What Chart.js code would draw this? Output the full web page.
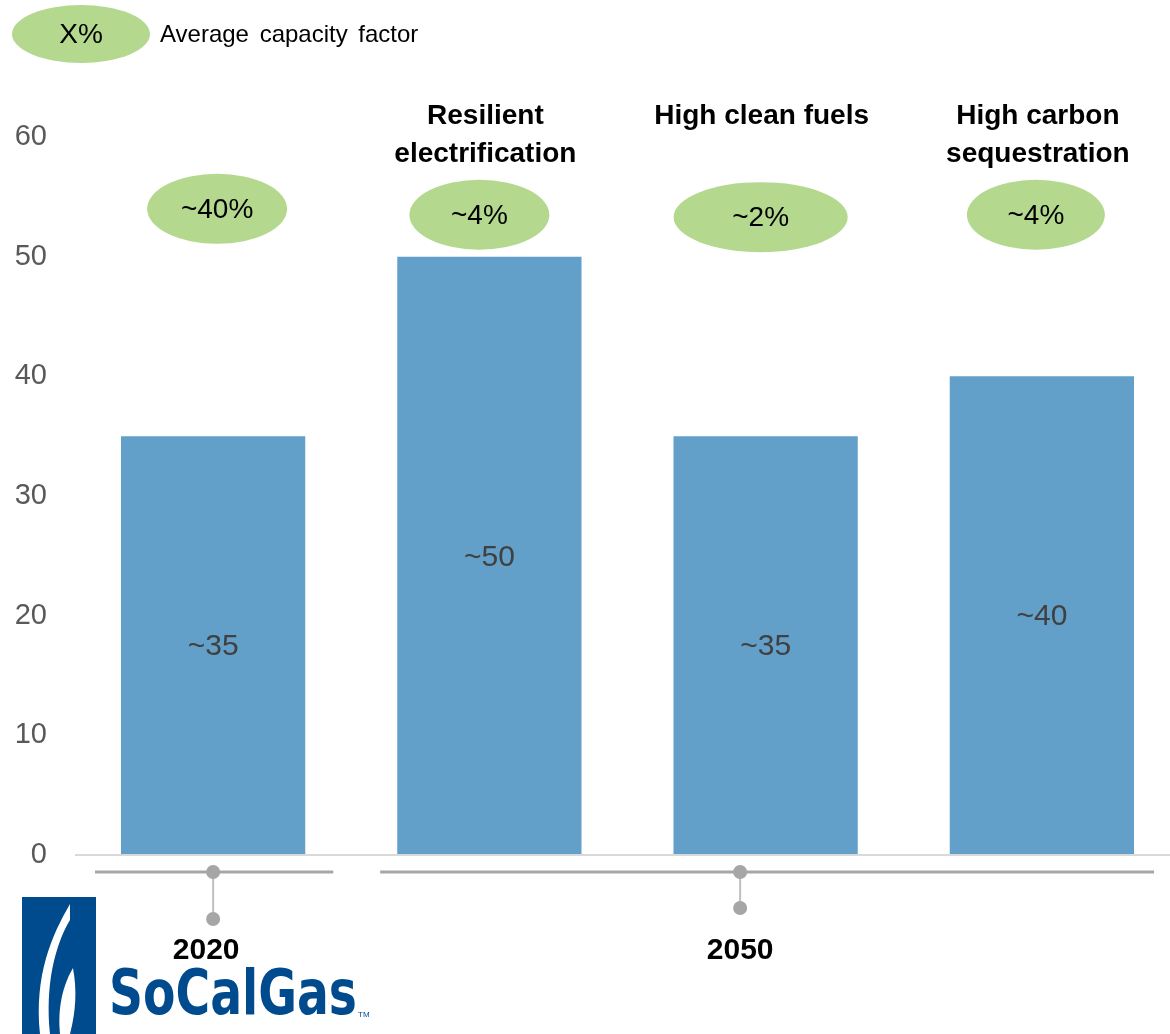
<!DOCTYPE html>
<html>
<head>
<meta charset="utf-8">
<script src="https://cdn.jsdelivr.net/npm/chart.js@4.4.1/dist/chart.umd.min.js"></script>
<style>
  html, body { margin: 0; padding: 0; background: #fff; overflow: hidden; }
  #wrap { position: absolute; left: 0; top: 0; width: 1180px; height: 1034px; }
</style>
</head>
<body>
<div id="wrap"><canvas id="capChart"></canvas></div>
<script>
// data
const scenarios = ["2020", "Resilient electrification", "High clean fuels", "High carbon sequestration"];
const titleLines = [[], ["Resilient", "electrification"], ["High clean fuels"], ["High carbon", "sequestration"]];
const capacityValues = [35, 50, 35, 40];
const barLabels = ["~35", "~50", "~35", "~40"];
const capacityFactors = ["~40%", "~4%", "~2%", "~4%"];
const yTicks = [0, 10, 20, 30, 40, 50, 60];
const yearGroups = [
  { label: "2020", from: 0, to: 0 },
  { label: "2050", from: 1, to: 3 }
];

const FONT = "'Liberation Sans', Arial, sans-serif";
const GREEN = "#b3d88e";
const BLUE = "#004b8d";
// bubble placement tweaks (x shift px, centre value on y axis, x radius)
const bubbleShift = [4, -10, -5, -6];
const bubbleLevel = [54.0, 53.5, 53.3, 53.5];
const bubbleRx = [70, 70, 87, 69];

function ellipse(ctx, cx, cy, rx, ry, text){
  ctx.fillStyle = GREEN;
  ctx.beginPath();
  ctx.ellipse(cx, cy, rx, ry, 0, 0, Math.PI * 2);
  ctx.fill();
  ctx.fillStyle = "#000";
  ctx.font = "28px " + FONT;
  ctx.textAlign = "center";
  ctx.textBaseline = "middle";
  ctx.fillText(text, cx, cy + 1);
}

const annotations = {
  id: "annotations",
  afterDatasetsDraw(chart){
    const ctx = chart.ctx;
    const meta = chart.getDatasetMeta(0);
    const y = chart.scales.y;
    ctx.save();

    // legend
    ellipse(ctx, 81, 34, 69, 29, "X%");
    ctx.font = "24px " + FONT;
    ctx.textAlign = "left";
    ctx.fillStyle = "#000";
    if ("wordSpacing" in ctx) ctx.wordSpacing = "4px";
    ctx.fillText("Average capacity factor", 160, 35);
    if ("wordSpacing" in ctx) ctx.wordSpacing = "0px";

    meta.data.forEach(function(bar, i){
      // value inside bar
      ctx.fillStyle = "#404040";
      ctx.font = "30px " + FONT;
      ctx.textAlign = "center";
      ctx.textBaseline = "middle";
      ctx.fillText(barLabels[i], bar.x, (bar.y + bar.base) / 2 + 2);

      // scenario title
      ctx.fillStyle = "#000";
      ctx.font = "bold 28px " + FONT;
      titleLines[i].forEach(function(line, k){
        ctx.fillText(line, bar.x - 4, 116 + k * 38);
      });

      // capacity factor bubble
      ellipse(ctx, bar.x + bubbleShift[i], y.getPixelForValue(bubbleLevel[i]), bubbleRx[i], 35, capacityFactors[i]);
    });

    // year brackets under the axis
    const base = y.getPixelForValue(0);
    yearGroups.forEach(function(g, gi){
      const left = meta.data[g.from].x - meta.data[g.from].width / 2;
      const right = meta.data[g.to].x + meta.data[g.to].width / 2;
      const x1 = left - 26 + (gi ? 9 : 0);
      const x2 = right + (gi ? 20 : 28);
      const lineY = base + 17;
      ctx.strokeStyle = "#a6a6a6";
      ctx.lineWidth = 3;
      ctx.beginPath();
      ctx.moveTo(x1, lineY);
      ctx.lineTo(x2, lineY);
      ctx.stroke();
      const dx = gi ? (x1 + x2) / 2 - 27 : meta.data[g.from].x;
      const drop = gi ? 36 : 47;
      ctx.strokeStyle = "#bfbfbf";
      ctx.lineWidth = 2;
      ctx.beginPath();
      ctx.moveTo(dx, lineY);
      ctx.lineTo(dx, lineY + drop);
      ctx.stroke();
      ctx.fillStyle = "#a6a6a6";
      [lineY, lineY + drop].forEach(function(py){
        ctx.beginPath();
        ctx.arc(dx, py, 7, 0, Math.PI * 2);
        ctx.fill();
      });
      ctx.fillStyle = "#000";
      ctx.font = "bold 30px " + FONT;
      ctx.textAlign = "center";
      ctx.textBaseline = "alphabetic";
      ctx.fillText(g.label, dx - (gi ? 0 : 7), 959);
    });

    // SoCalGas logo
    ctx.fillStyle = BLUE;
    ctx.fillRect(22, 897, 74, 137);
    ctx.fillStyle = "#fff";
    ctx.beginPath();
    ctx.moveTo(70, 904);
    ctx.bezierCurveTo(52, 935, 34, 975, 40, 1034);
    ctx.lineTo(50, 1034);
    ctx.bezierCurveTo(45, 985, 55, 945, 70, 920);
    ctx.closePath();
    ctx.fill();
    ctx.beginPath();
    ctx.moveTo(73, 968);
    ctx.bezierCurveTo(60, 990, 58, 1015, 60, 1034);
    ctx.lineTo(70, 1034);
    ctx.bezierCurveTo(76, 1010, 77, 990, 73, 968);
    ctx.closePath();
    ctx.fill();

    ctx.fillStyle = BLUE;
    ctx.font = "bold 62px 'Liberation Sans Narrow', 'DejaVu Sans Condensed', " + FONT;
    ctx.textAlign = "left";
    ctx.textBaseline = "alphabetic";
    const w = ctx.measureText("SoCalGas").width;
    ctx.save();
    ctx.translate(109, 1014);
    ctx.scale(248 / w, 1);
    ctx.fillText("SoCalGas", 0, 0);
    ctx.restore();
    ctx.font = "8px " + FONT;
    ctx.fillText("TM", 358, 1017);

    ctx.restore();
  }
};

new Chart(document.getElementById("capChart"), {
  type: "bar",
  data: {
    labels: scenarios,
    datasets: [{
      data: capacityValues,
      backgroundColor: "#62a0ca",
      barPercentage: 0.667,
      categoryPercentage: 1.0
    }]
  },
  options: {
    responsive: true,
    maintainAspectRatio: false,
    animation: false,
    layout: { padding: { top: 137, bottom: 179, left: 0, right: 0 } },
    plugins: { legend: { display: false }, tooltip: { enabled: false } },
    scales: {
      x: {
        display: false
      },
      y: {
        min: 0,
        max: 60,
        afterFit(scale){ scale.width = 75; },
        afterBuildTicks(scale){ scale.ticks = yTicks.map(v => ({ value: v })); },
        border: { display: false },
        grid: {
          drawTicks: false,
          color: ctx => ctx.tick && ctx.tick.value === 0 ? "#d9d9d9" : "rgba(0,0,0,0)",
          lineWidth: 2
        },
        ticks: {
          padding: 28,
          color: "#595959",
          font: { family: FONT, size: 29 }
        }
      }
    }
  },
  plugins: [annotations]
});
</script>
</body>
</html>
